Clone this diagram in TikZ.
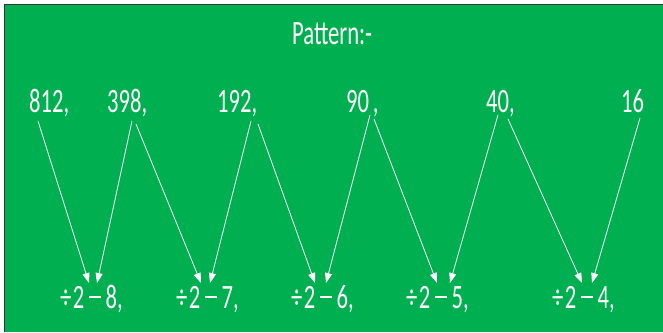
\documentclass[tikz,border=0pt]{standalone}
\usepackage{fontspec}
\setmainfont{Carlito}
\usetikzlibrary{arrows.meta}
\definecolor{bggreen}{RGB}{0,176,80}
\newcommand\TallText[1]{\scalebox{1}[1.51]{#1}}
\newcommand\LongMinus{\hspace{4.5pt}\rule[0.29em]{0.52em}{0.07em}\hspace{5pt}}
\tikzset{
  lbl/.style={text=white, font=\fontsize{22.6}{27}\selectfont, inner sep=0pt, anchor=base west},
  arr/.style={draw=white, line width=0.8pt, -{Triangle[width=7pt,length=10pt]}}
}
\begin{document}
\begin{tikzpicture}[x=1pt,y=-1pt]
\useasboundingbox (0,0) rectangle (663,332);
\fill[white] (0,0) rectangle (663,332);
\fill[bggreen] (5,5) rectangle (663,332);
\draw[black!80, line width=1.2pt] (4.6,332) -- (4.6,4.6) -- (663,4.6);
% texts
\node[lbl] (title) at (292,44) {\TallText{Pattern:-}};
\node[lbl] (n1) at (29,112) {\TallText{812,}};
\node[lbl] (n2) at (107,112) {\TallText{398,}};
\node[lbl] (n3) at (217,112) {\TallText{192,}};
\node[lbl] (n4) at (346,112) {\TallText{90\,,}};
\node[lbl] (n5) at (486,112) {\TallText{40,}};
\node[lbl] (n6) at (621,112) {\TallText{16}};
\node[lbl] (b1) at (60,308) {\TallText{÷\hspace{1.5pt}2\LongMinus 8,}};
\node[lbl] (b2) at (176,308) {\TallText{÷\hspace{1.5pt}2\LongMinus 7,}};
\node[lbl] (b3) at (291,308) {\TallText{÷\hspace{1.5pt}2\LongMinus 6,}};
\node[lbl] (b4) at (406,308) {\TallText{÷\hspace{1.5pt}2\LongMinus 5,}};
\node[lbl] (b5) at (552,308) {\TallText{÷\hspace{1.5pt}2\LongMinus 4,}};
% arrow ends
\coordinate (s1) at (38,121);  \coordinate (t1) at (89,283);
\coordinate (s2) at (132,121); \coordinate (t2) at (97,283);
\coordinate (s3) at (136,124); \coordinate (t3) at (201,283);
\coordinate (s4) at (251,121); \coordinate (t4) at (210,283);
\coordinate (s5) at (258,124); \coordinate (t5) at (315,283);
\coordinate (s6) at (370,115); \coordinate (t6) at (326,283);
\coordinate (s7) at (374,119); \coordinate (t7) at (437,283);
\coordinate (s8) at (498,115); \coordinate (t8) at (450,283);
\coordinate (s9) at (508,119); \coordinate (t9) at (582,283);
\coordinate (s10) at (640,118); \coordinate (t10) at (592,283);
\foreach \i in {1,...,10} { \draw[arr] (s\i) -- (t\i); }
\end{tikzpicture}
\end{document}
